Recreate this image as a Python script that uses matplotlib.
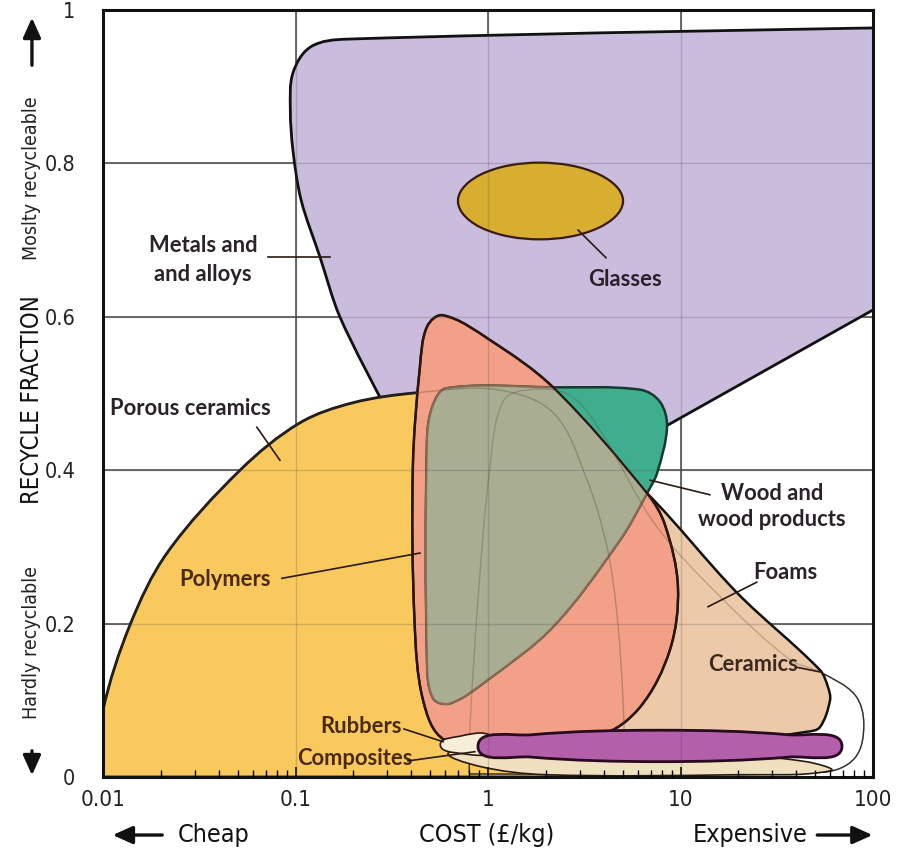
import matplotlib
matplotlib.use("Agg")
import matplotlib.pyplot as plt
import numpy as np
from matplotlib.path import Path
from matplotlib.patches import PathPatch, FancyArrowPatch

# envelope outlines: (cost £/kg, recycle fraction)
metals = [(0.275, 0.495), (0.170, 0.600), (0.134, 0.678), (0.107, 0.752), (0.097, 0.817),
          (0.094, 0.870), (0.097, 0.918), (0.120, 0.952), (0.185, 0.962), (130, 0.977),
          (130, 0.625), (8.61, 0.459), (5.0, 0.44), (1.0, 0.44), (0.5, 0.46)]
metals_corners = [0, 9, 10, 11]

glasses = [(5.03, 0.751), (3.75, 0.786), (1.86, 0.801), (0.925, 0.786),
           (0.698, 0.751), (0.925, 0.716), (1.86, 0.701), (3.75, 0.716)]

porous = [(0.0093, 0.0), (0.0100, 0.087), (0.0138, 0.198), (0.0215, 0.292), (0.0515, 0.400),
          (0.105, 0.4615), (0.199, 0.488), (0.428, 0.501), (1.11, 0.505), (2.18, 0.475),
          (3.27, 0.387), (4.15, 0.300), (4.67, 0.214), (5.03, 0.10), (5.15, 0.0)]
porous_corners = [0, 14]

ceramics = [(0.80, 0.004), (0.805, 0.061), (0.887, 0.231), (1.02, 0.40), (1.2, 0.49),
            (1.65, 0.505), (2.65, 0.498), (3.82, 0.452), (7.4, 0.329), (15.8, 0.237),
            (37.0, 0.153), (53.0, 0.137), (80.6, 0.107), (89.6, 0.068), (80.6, 0.025),
            (56.0, 0.0065), (3.82, 0.004)]
ceramics_corners = [0]

foams = [(0.55, 0.55), (2.0, 0.49), (6.70, 0.370), (19.7, 0.240), (53.0, 0.1395),
         (58.4, 0.117), (59.8, 0.100), (53.0, 0.065), (45.4, 0.059), (12.6, 0.042),
         (0.887, 0.042), (0.57, 0.10), (0.50, 0.426)]

polymers = [(0.584, 0.602), (1.02, 0.570), (2.18, 0.508), (6.70, 0.370), (8.30, 0.329),
            (9.70, 0.248), (8.82, 0.166), (6.16, 0.091), (3.82, 0.055), (1.15, 0.046),
            (0.598, 0.048), (0.46, 0.10), (0.415, 0.205), (0.407, 0.404), (0.443, 0.535),
            (0.482, 0.587)]

wood = [(0.612, 0.507), (2.18, 0.508), (6.16, 0.505), (7.83, 0.489), (8.51, 0.456),
        (7.55, 0.396), (6.70, 0.370), (4.85, 0.309), (2.18, 0.196), (0.988, 0.126),
        (0.635, 0.096), (0.518, 0.103), (0.482, 0.153), (0.482, 0.439), (0.518, 0.485)]

rubbers = [(0.565, 0.042), (0.71, 0.053), (1.02, 0.055), (1.09, 0.033), (0.71, 0.031)]

composites = [(0.635, 0.033), (1.46, 0.038), (12.6, 0.033), (45.0, 0.020), (60.0, 0.008),
              (20.0, 0.003), (2.0, 0.003), (0.9, 0.014)]

bar = [(0.887, 0.040), (1.67, 0.055), (7.83, 0.061), (36.6, 0.055),
       (69.0, 0.040), (36.6, 0.026), (7.83, 0.020), (1.67, 0.026)]

# labels: text, text position, leader start, leader end
labels = [
    ("Metals and\nand alloys", (0.033, 0.674), (0.072, 0.678), (0.151, 0.678)),
    ("Glasses", (5.15, 0.648), (4.10, 0.677), (2.94, 0.713)),
    ("Porous ceramics", (0.0109, 0.481), (0.063, 0.456), (0.083, 0.413)),
    ("Polymers", (0.043, 0.257), (0.085, 0.259), (0.443, 0.292)),
    ("Wood and\nwood products", (29.9, 0.353), (14.2, 0.368), (6.95, 0.387)),
    ("Foams", (34.9, 0.266), (24.9, 0.254), (13.9, 0.222)),
    ("Ceramics", (23.8, 0.147), (40.3, 0.143), (53.0, 0.137)),
    ("Rubbers", (0.219, 0.066), (0.366, 0.0626), (0.584, 0.046)),
    ("Composites", (0.204, 0.0235), (0.384, 0.021), (0.855, 0.033)),
]
label_align = ["center", "center", "left", "center", "center", "center", "center", "center", "center"]
label_colors = ["#2a2228", "#2a2228", "#2a2228", "#4a2a12", "#2a2228", "#2a2228", "#3a2a20", "#4a2a12", "#4a2a12"]
label_spacing = [1.5, 1.3, 1.3, 1.3, 1.3, 1.3, 1.3, 1.3, 1.3]

x_ticks = [0.01, 0.1, 1, 10, 100]
x_ticklabels = ["0.01", "0.1", "1", "10", "100"]
y_ticks = [0, 0.2, 0.4, 0.6, 0.8, 1.0]
y_ticklabels = ["0", "0.2", "0.4", "0.6", "0.8", "1"]

DX, DY = 192.5, 767.0  # pixel-like scale for smoothing in log space


def smooth_path(pts, corners=()):
    P = np.array([[np.log10(c) * DX, f * DY] for c, f in pts])
    n = len(P)
    D = np.zeros_like(P)
    for i in range(n):
        if i in corners:
            continue
        d = P[(i + 1) % n] - P[(i - 1) % n]
        D[i] = d / np.hypot(*d)
    verts = [P[0]]
    codes = [Path.MOVETO]
    for i in range(n):
        j = (i + 1) % n
        L = np.hypot(*(P[j] - P[i])) / 3
        verts += [P[i] + D[i] * L, P[j] - D[j] * L, P[j]]
        codes += [Path.CURVE4] * 3
    verts.append(P[0])
    codes.append(Path.CLOSEPOLY)
    V = np.array(verts)
    V = np.column_stack([10 ** (V[:, 0] / DX), V[:, 1] / DY])
    return Path(V, codes)


fig = plt.figure(figsize=(9.08, 8.59), dpi=100)
ax = fig.add_axes([103 / 908, 82 / 859, 770 / 908, 767 / 859])
ax.set_xscale("log")
ax.set_xlim(0.01, 100)
ax.set_ylim(0, 1)

# grid: dark under the envelopes, faint on top of them
for xv in [0.1, 1, 10]:
    ax.axvline(xv, color="#444444", lw=1.1, zorder=0.5)
    ax.axvline(xv, color="#444444", lw=1.0, alpha=0.22, zorder=20)
for yv in [0.2, 0.4, 0.6, 0.8]:
    ax.axhline(yv, color="#444444", lw=1.1, zorder=0.5)
    ax.axhline(yv, color="#444444", lw=1.0, alpha=0.22, zorder=20)


def add(path, fc, ec, lw, z, **kw):
    p = PathPatch(path, facecolor=fc, edgecolor=ec, lw=lw, zorder=z, **kw)
    ax.add_patch(p)
    return p


p_metals = smooth_path(metals, metals_corners)
p_porous = smooth_path(porous, porous_corners)
p_ceram = smooth_path(ceramics, ceramics_corners)
p_foams = smooth_path(foams)
p_poly = smooth_path(polymers)
p_wood = smooth_path(wood)

add(p_metals, "#c9bcdd", "#111111", 2.0, 1)
add(p_porous, "#f9c95e", "#111111", 2.0, 2)
add(p_ceram, "none", "#222222", 1.0, 3)
add(p_foams, "#ecc9a8", "#111111", 1.8, 4)
add(p_poly, "#f2a088", "#3a1a10", 1.8, 5)
wood_patch = add(p_wood, "#3fae8e", "#173a30", 1.8, 6)
overlap = add(p_poly, "#a9ad92", "none", 0, 7)
overlap.set_clip_path(wood_patch)
poly_clip = PathPatch(p_poly, transform=ax.transData)
wood_edge = add(p_wood, "none", "#8a6a52", 1.6, 7.5)
wood_edge.set_clip_path(poly_clip)
add(p_poly, "none", "#2a1510", 1.6, 8)
# faint hidden outlines seen through the overlapping envelopes
add(p_porous, "none", "#5a4a30", 1.0, 8.2, alpha=0.35)
add(p_ceram, "none", "#5a4a30", 1.0, 8.2, alpha=0.3)

add(smooth_path(glasses), "#d8ae30", "#3a1a10", 1.6, 9)
add(smooth_path(composites), "#efe0c0", "#2a1a10", 1.2, 10)
add(smooth_path(rubbers), "#f6eed8", "#2a1a10", 1.2, 10.5)
add(smooth_path(bar), "#b35fa9", "#2a0a20", 2.0, 11)

for (txt, tpos, l0, l1), ha, col, ls in zip(labels, label_align, label_colors, label_spacing):
    ax.text(tpos[0], tpos[1], txt, ha=ha, va="center", fontsize=15.8, fontweight="bold",
            family=["Lato", "DejaVu Sans"], color=col, linespacing=ls, zorder=30)
    ax.plot([l0[0], l1[0]], [l0[1], l1[1]], color="#2a1a14", lw=1.2, zorder=30)

# axes styling
for s in ax.spines.values():
    s.set_linewidth(2.2)
    s.set_color("#111111")
    s.set_zorder(40)
ax.xaxis.set_zorder(45)
narrow = dict(family="DejaVu Sans", stretch="condensed")
ax.set_xticks(x_ticks)
ax.set_xticklabels(x_ticklabels)
ax.set_yticks(y_ticks)
ax.set_yticklabels(y_ticklabels)
ax.tick_params(axis="x", which="major", direction="in", length=7, width=1.2,
               labelsize=16, pad=9, colors="#111111")
ax.tick_params(axis="x", which="minor", direction="in", length=5, width=1.0)
ax.tick_params(axis="y", which="both", length=0, labelsize=15.5, pad=20, colors="#111111")
for lab in ax.get_xticklabels() + ax.get_yticklabels():
    lab.set_fontstretch("condensed")
    lab.set_color("#222222")

fig.text(0.0352, 0.5343, "RECYCLE FRACTION", rotation=90, ha="center", va="center",
         fontsize=17, color="#111111", **narrow)
fig.text(0.0352, 0.7928, "Moslty recycleable", rotation=90, ha="center", va="center",
         fontsize=14, color="#222222", **narrow)
fig.text(0.0352, 0.2526, "Hardly recyclable", rotation=90, ha="center", va="center",
         fontsize=14, color="#222222", **narrow)

arr = dict(arrowstyle="-|>,head_length=1.0,head_width=0.45", color="#111111", lw=2.4,
           mutation_scale=12, transform=fig.transFigure)
for start, end in [((0.0352, 0.9208), (0.0352, 0.9825)), ((0.0352, 0.1292), (0.0352, 0.0943)),
                   ((0.1817, 0.0279), (0.1211, 0.0279)), ((0.897, 0.0279), (0.964, 0.0279))]:
    fig.add_artist(FancyArrowPatch(start, end, **arr))
fig.text(0.196, 0.0279, "Cheap", ha="left", va="center", fontsize=18, color="#111111", **narrow)
fig.text(0.5363, 0.0279, "COST (£/kg)", ha="center", va="center", fontsize=18, color="#111111", **narrow)
fig.text(0.889, 0.0279, "Expensive", ha="right", va="center", fontsize=18, color="#111111", **narrow)

fig.savefig("out.png", dpi=100)
